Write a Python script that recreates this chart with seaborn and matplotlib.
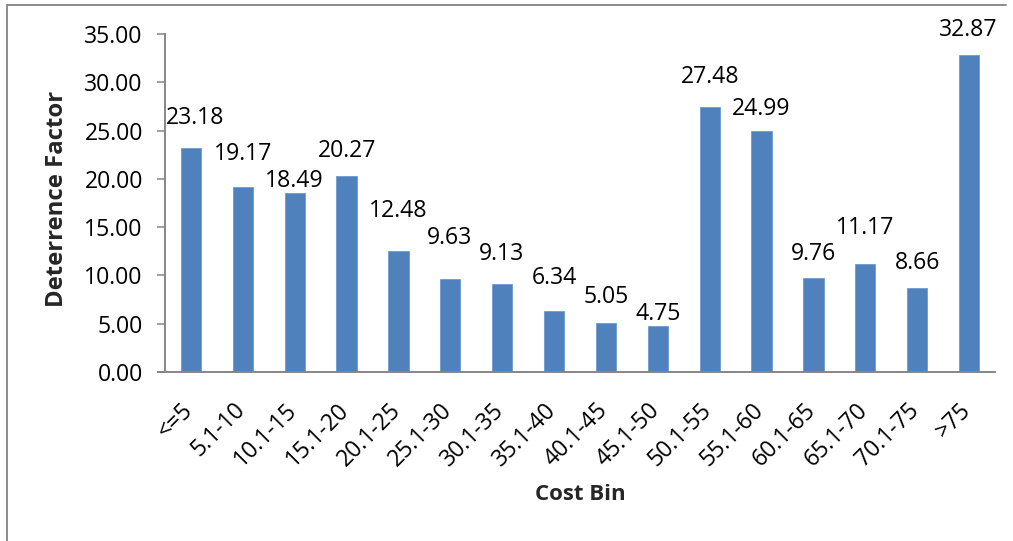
import matplotlib
matplotlib.use("Agg")
import matplotlib.pyplot as plt
from matplotlib.lines import Line2D
from matplotlib.transforms import ScaledTranslation
import seaborn as sns
import pandas as pd

# Deterrence factor by cost bin
cost_bins = ["<=5", "5.1-10", "10.1-15", "15.1-20", "20.1-25", "25.1-30", "30.1-35",
             "35.1-40", "40.1-45", "45.1-50", "50.1-55", "55.1-60", "60.1-65",
             "65.1-70", "70.1-75", ">75"]
deterrence = [23.18, 19.17, 18.49, 20.27, 12.48, 9.63, 9.13, 6.34, 5.05, 4.75,
              27.48, 24.99, 9.76, 11.17, 8.66, 32.87]
y_ticks = [0, 5, 10, 15, 20, 25, 30, 35]

# hand-placed value labels: shift (px) of the label centre from the bar top
label_dx = [4.5, 0, 0, 0, 0, -1, -1, 0, 0, 0, 0, 0, 0, 0, 0, -1]
label_dy = [32, 35, 15, 27, 43, 43, 32, 35, 28, 14.5, 32, 24, 26, 38, 28, 26.5]

sns.set_theme(style="white")
plt.rcParams["font.family"] = ["Open Sans", "DejaVu Sans"]

FS = 16.6
BAR = "#4F81BD"
AXIS = "#868686"

fig = plt.figure(figsize=(10.13, 5.41), dpi=100)
W, H = 1013, 541
ax = fig.add_axes([165 / W, 1 - 372 / H, (995 - 165) / W, (372 - 34) / H])

df = pd.DataFrame({"Cost Bin": cost_bins, "Deterrence Factor": deterrence})
sns.barplot(data=df, x="Cost Bin", y="Deterrence Factor", color=BAR,
            saturation=1, width=0.39, ax=ax, edgecolor="#6E9AD0", linewidth=0.6)

ax.set_xlim(-0.5, len(cost_bins) - 0.5)
ax.set_ylim(0, 35)
ax.set_yticks(y_ticks)
ax.set_yticklabels([f"{t:.2f}" for t in y_ticks], fontsize=FS, color="black")

for side in ("top", "right"):
    ax.spines[side].set_visible(False)
for side in ("left", "bottom"):
    ax.spines[side].set_color(AXIS)
    ax.spines[side].set_linewidth(1.4)
ax.spines["bottom"].set_bounds(-0.5 - 7 / 51.9, len(cost_bins) - 0.5)

ax.tick_params(axis="y", direction="out", length=6, width=1.1, color=AXIS,
               pad=10, left=True)
ax.tick_params(axis="x", length=0, pad=25)

ax.set_xticks(range(len(cost_bins)))
ax.set_xticklabels(cost_bins, fontsize=FS, rotation=45, ha="right",
                   va="center", rotation_mode="anchor", color="black")
shift = ScaledTranslation(-1.5 / 100, 0, fig.dpi_scale_trans)
for lbl in ax.get_xticklabels():
    lbl.set_transform(lbl.get_transform() + shift)

ax.set_xlabel("Cost Bin", fontsize=16, fontweight="bold", labelpad=0)
ax.xaxis.set_label_coords(0.5, -(494 - 372) / (372 - 34), transform=ax.transAxes)
ax.xaxis.label.set_va("center")
ax.set_ylabel("Deterrence Factor", fontsize=17.2, fontweight="bold")
ax.yaxis.set_label_coords(-(165 - 57) / (995 - 165), (372 - 199) / (372 - 34))
ax.yaxis.label.set_va("center")

cap = 0.714 * FS * 100 / 72  # digit height in px
for i, v in enumerate(deterrence):
    ax.annotate(f"{v:.2f}", xy=(i, v), xytext=(label_dx[i], label_dy[i] - cap / 2),
                textcoords="offset pixels", ha="center", va="baseline",
                fontsize=FS, color="black")

# outer chart frame
fig.add_artist(Line2D([7 / W, 7 / W], [0, 1 - 5 / H], transform=fig.transFigure,
                      color="#8C8C8C", lw=1.4))
fig.add_artist(Line2D([7 / W, 1006 / W], [1 - 5 / H, 1 - 5 / H],
                      transform=fig.transFigure, color="#8C8C8C", lw=1.4))

fig.savefig("out.png", dpi=100, facecolor="white")
